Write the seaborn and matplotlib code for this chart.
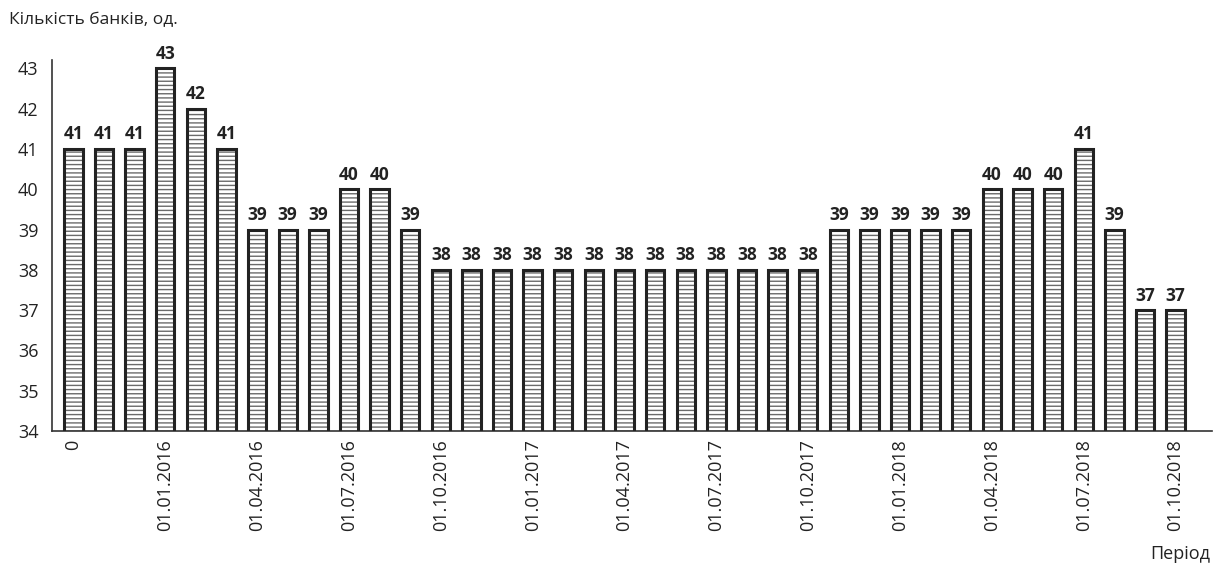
import matplotlib
matplotlib.use("Agg")
import matplotlib.pyplot as plt
import seaborn as sns
import pandas as pd

# number of banks by month
values = [41, 41, 41, 43, 42, 41, 39, 39, 39, 40, 40, 39,
          38, 38, 38, 38, 38, 38, 38, 38, 38, 38, 38, 38, 38,
          39, 39, 39, 39, 39, 40, 40, 40, 41, 39, 37, 37]
tick_labels = ["0", "01.01.2016", "01.04.2016", "01.07.2016", "01.10.2016",
               "01.01.2017", "01.04.2017", "01.07.2017", "01.10.2017",
               "01.01.2018", "01.04.2018", "01.07.2018", "01.10.2018"]

df = pd.DataFrame({"idx": range(len(values)), "banks": values})

sns.set_style("white")
plt.rcParams["font.family"] = ["Open Sans", "DejaVu Sans"]
plt.rcParams["hatch.linewidth"] = 1.0

fig, ax = plt.subplots(figsize=(12.16, 5.74), dpi=100)
fig.subplots_adjust(left=0.043, right=0.997, top=0.895, bottom=0.249)

# hatched fill
sns.barplot(data=df, x="idx", y="banks", color="white", edgecolor="#6a6a6a",
            hatch="----", linewidth=0, width=0.6, ax=ax, zorder=2)
# black outline
sns.barplot(data=df, x="idx", y="banks", fill=False, edgecolor="#222222",
            linewidth=2.2, width=0.6, ax=ax, zorder=3)

ax.bar_label(ax.containers[1], fmt="%d", padding=4, fontsize=12.5,
             fontweight="bold", color="#222222")

ax.set_ylim(34, 43.2)
ax.set_xlim(-0.69, 37.2)
ax.set_yticks(range(34, 44))
ax.set_xticks(range(0, len(values), 3))
ax.set_xticklabels(tick_labels, rotation=90)
ax.tick_params(axis="both", length=0, labelsize=13, colors="#222222", pad=6)
ax.tick_params(axis="y", pad=10)

for s in ["top", "right"]:
    ax.spines[s].set_visible(False)
for s in ["left", "bottom"]:
    ax.spines[s].set_color("#333333")
    ax.spines[s].set_linewidth(1.2)

ax.set_xlabel("")
ax.set_ylabel("")
fig.text(0.007, 0.965, "Кількість банків, од.", fontsize=12.5, color="#222222",
         ha="left", va="center")
fig.text(0.995, 0.035, "Період", fontsize=13, color="#222222",
         ha="right", va="center")

fig.savefig("out.png", dpi=100)
